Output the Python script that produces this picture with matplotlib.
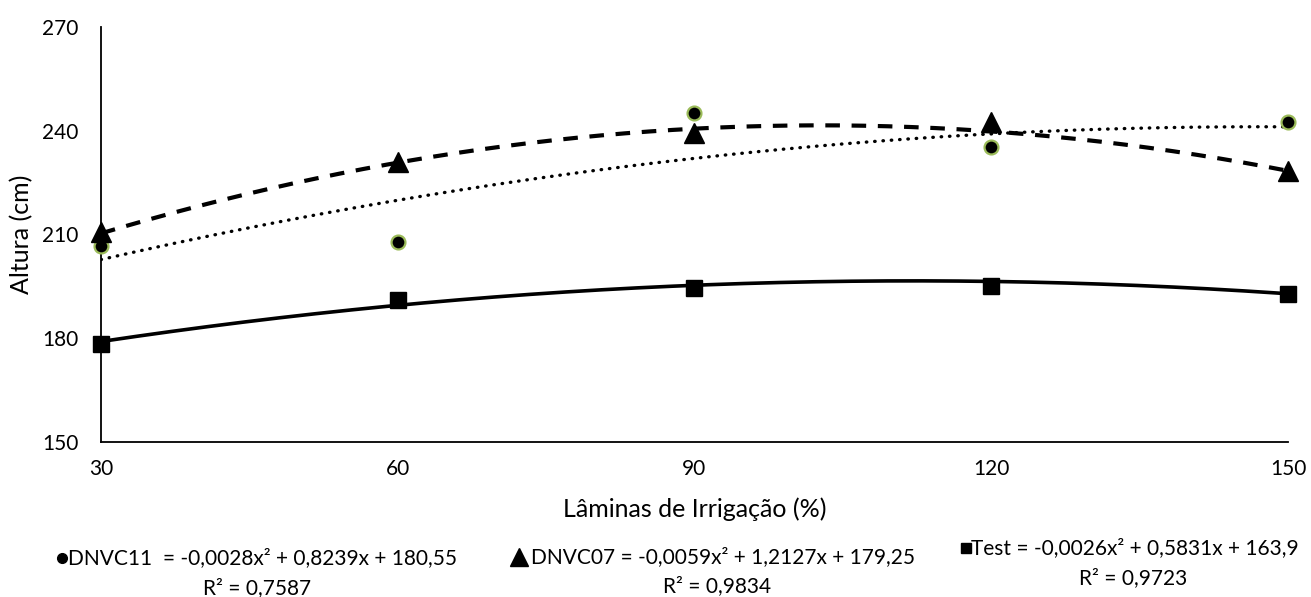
import numpy as np
import matplotlib
matplotlib.use("Agg")
import matplotlib.pyplot as plt
from matplotlib.lines import Line2D

plt.rcParams['font.family'] = ['Lato', 'DejaVu Sans']

laminas = [30, 60, 90, 120, 150]
dnvc11 = [206.8, 207.8, 245.0, 235.2, 242.4]
dnvc07 = [210.6, 230.9, 239.3, 242.6, 228.5]
test = [178.2, 191.2, 194.5, 195.1, 192.9]

# trendline coefficients shown in the legend (a, b, c)
coef11 = [-0.0028, 0.8239, 180.55]
coef07 = [-0.0059, 1.2127, 179.25]
coefT = [-0.0026, 0.5831, 163.9]

eq_labels = [
    ("DNVC11  = -0,0028x² + 0,8239x + 180,55", "R² = 0,7587"),
    ("DNVC07 = -0,0059x² + 1,2127x + 179,25", "R² = 0,9834"),
    ("Test = -0,0026x² + 0,5831x + 163,9", "R² = 0,9723"),
]

W, H = 1311, 597
X0, X1, Y0, Y1 = 101, 1288, 27, 442
fig = plt.figure(figsize=(W / 100, H / 100), dpi=100)
ax = fig.add_axes([X0 / W, 1 - Y1 / H, (X1 - X0) / W, (Y1 - Y0) / H])

xs = np.linspace(30, 150, 300)
ax.plot(xs, np.polyval(coef11, xs), color='black', lw=2.4, ls=(0, (0.15, 2.35)),
        dash_capstyle='round', zorder=2)
ax.plot(xs, np.polyval(coef07, xs), color='black', lw=3.0, ls=(0, (3.5, 2.8)), zorder=2)
ax.plot(xs, np.polyval(coefT, xs), color='black', lw=2.6, ls='-', zorder=2)

ax.plot(laminas, dnvc11, ls='none', marker='o', ms=10, mfc='black', mec='#9bbb59',
        mew=1.6, clip_on=False, zorder=4)
ax.plot(laminas, dnvc07, ls='none', marker='^', ms=14, mfc='black', mec='black',
        clip_on=False, zorder=4)
ax.plot(laminas, test, ls='none', marker='s', ms=11, mfc='black', mec='black',
        clip_on=False, zorder=4)

ax.set_xlim(30, 150)
ax.set_ylim(150, 270)
ax.set_xticks(laminas)
ax.set_yticks([150, 180, 210, 240, 270])
ax.tick_params(length=0, labelsize=15)
ax.tick_params(axis='x', pad=12)
ax.tick_params(axis='y', pad=16)
for s in ['top', 'right']:
    ax.spines[s].set_visible(False)
for s in ['left', 'bottom']:
    ax.spines[s].set_linewidth(1.3)
ax.set_xlabel('Lâminas de Irrigação (%)', fontsize=18, va='center')
ax.set_ylabel('Altura (cm)', fontsize=18, va='center')
ax.xaxis.set_label_coords(0.5, -(509 - Y1) / (Y1 - Y0))
ax.yaxis.set_label_coords(-(X0 - 22) / (X1 - X0), 0.5)

# bottom legend with equations
fs = 15
entries = [
    (dict(marker='o', ms=7, mfc='black', mec='black'), 62, 68, 558, 257, 588),
    (dict(marker='^', ms=13, mfc='black', mec='black'), 519, 531, 557, 717, 586),
    (dict(marker='s', ms=6.5, mfc='black', mec='black'), 966, 971, 548, 1133, 578),
]
for (mk, mx, tx, ty, rx, ry), (l1, l2) in zip(entries, eq_labels):
    fig.add_artist(Line2D([mx / W], [1 - ty / H], ls='none', transform=fig.transFigure, **mk))
    fig.text(tx / W, 1 - ty / H, l1, fontsize=fs, ha='left', va='center')
    fig.text(rx / W, 1 - ry / H, l2, fontsize=fs, ha='center', va='center')

fig.savefig('out.png', dpi=100)
